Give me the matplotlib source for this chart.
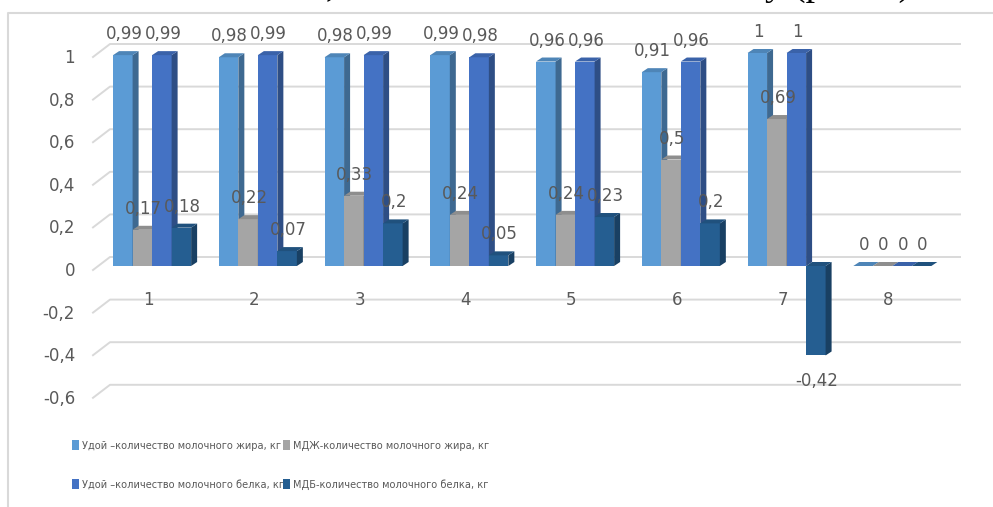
import numpy as np
import matplotlib.pyplot as plt
from matplotlib.patches import Polygon
from matplotlib.lines import Line2D
from matplotlib.transforms import IdentityTransform
from matplotlib.colors import to_rgb

categories = [1, 2, 3, 4, 5, 6, 7, 8]
fat_yield = [0.99, 0.98, 0.98, 0.99, 0.96, 0.91, 1, 0]
fat_mdzh = [0.17, 0.22, 0.33, 0.24, 0.24, 0.5, 0.69, 0]
protein_yield = [0.99, 0.99, 0.99, 0.98, 0.96, 0.96, 1, 0]
protein_mdb = [0.18, 0.07, 0.2, 0.05, 0.23, 0.2, -0.42, 0]
series_labels = [
    "Удой –количество молочного жира, кг",
    "МДЖ-количество молочного жира, кг",
    "Удой –количество молочного белка, кг",
    "МДБ-количество молочного белка, кг",
]
y_ticks = [-0.6, -0.4, -0.2, 0, 0.2, 0.4, 0.6, 0.8, 1]

colors = ["#5B9BD5", "#A5A5A5", "#4472C4", "#255E91"]
text_color = "#595959"
grid_color = "#D9D9D9"


def fmt(v):
    return "{:g}".format(round(v, 2)).replace(".", ",")


def shade(c, k):
    return tuple(np.array(to_rgb(c)) * k)


W, H = 993, 507
fig = plt.figure(figsize=(W / 100, H / 100), dpi=100)
# plot area: x 95..960 px, values -0.6..1 -> 394..53 px
ax = fig.add_axes([95 / W, (H - 393.8) / H, 865 / W, 340.8 / H])
ax.set_xlim(0.46, 8.64)
ax.set_ylim(-0.6, 1.0)
ax.axis("off")

px = ax.transData.transform
ident = IdentityTransform()

# back wall grid lines with the 3d "floor" diagonal on the left
for v in y_ticks:
    fx, fy = px((0.46, v))
    rx, _ = px((8.64, v))
    ax.add_line(Line2D([fx - 2, fx + 15, rx], [fy - 4, fy + 9, fy + 9],
                       transform=ident, color=grid_color, lw=1.4,
                       zorder=1, clip_on=False))
    ax.annotate(fmt(v), (0.46, v), xytext=(-20, -5), textcoords="offset pixels",
                ha="right", va="center", fontsize=12, color=text_color,
                annotation_clip=False)

# bars with side and top faces
series = [fat_yield, fat_mdzh, protein_yield, protein_mdb]
w = 0.1845
DX, DY = 6, 4
handles = []
for j, vals in enumerate(series):
    xs = np.array(categories) + (j - 1.5) * w
    bars = ax.bar(xs, vals, w, color=colors[j], linewidth=0, zorder=3 + j,
                  label=series_labels[j], clip_on=False)
    handles.append(bars)
    for rect, v in zip(bars, vals):
        x0 = rect.get_x()
        x1 = x0 + rect.get_width()
        lo, hi = min(0, v), max(0, v)
        (ax0, ylo), (ax1, yhi) = px((x0, lo)), px((x1, hi))
        side = Polygon([(ax1, ylo), (ax1, yhi), (ax1 + DX, yhi + DY), (ax1 + DX, ylo + DY)],
                       closed=True, transform=ident, color=shade(colors[j], 0.68),
                       lw=0, zorder=3 + j, clip_on=False)
        top = Polygon([(ax0, yhi), (ax1, yhi), (ax1 + DX, yhi + DY), (ax0 + DX, yhi + DY)],
                      closed=True, transform=ident, color=shade(colors[j], 0.86),
                      lw=0, zorder=3 + j, clip_on=False)
        ax.add_patch(side)
        ax.add_patch(top)
        cx = x0 + rect.get_width() / 2
        dy = 21 if v >= 0 else -26
        ax.annotate(fmt(v), (cx, v), xytext=(1, dy), textcoords="offset pixels",
                    ha="center", va="center", fontsize=12, color=text_color,
                    zorder=10, annotation_clip=False)

# category labels
for c in categories:
    ax.annotate(str(c), (c, 0), xytext=(-4, -34), textcoords="offset pixels",
                ha="center", va="center", fontsize=12, color=text_color,
                annotation_clip=False)

# chart frame
fig.add_artist(Line2D([8 / W, 8 / W, 1], [0, 1 - 13 / H, 1 - 13 / H],
                      transform=fig.transFigure, color=grid_color, lw=1.5))

# legend, two columns placed separately
leg_font = {"family": "DejaVu Sans", "stretch": "condensed", "size": 7.8}
for k, (hidx, x0) in enumerate([((0, 2), 72), ((1, 3), 283)]):
    leg = fig.legend([handles[i] for i in hidx], [series_labels[i] for i in hidx],
                     loc="upper left", bbox_to_anchor=(x0 / W, 1 - 440 / H),
                     bbox_transform=fig.transFigure, frameon=False, prop=leg_font,
                     handlelength=0.6, handleheight=1.05, handletextpad=0.3,
                     labelspacing=2.6, borderpad=0, borderaxespad=0,
                     labelcolor=text_color)

# clipped document text above the chart
fig.text(326 / W, 1 + 5 / H, ",", family="Liberation Serif", fontsize=27,
         va="baseline", color="black")
fig.text(765 / W, 1 + 5 / H, "у (рис. 3)", family="Liberation Serif", fontsize=27,
         va="baseline", color="black")

fig.savefig("out.png", dpi=100)
